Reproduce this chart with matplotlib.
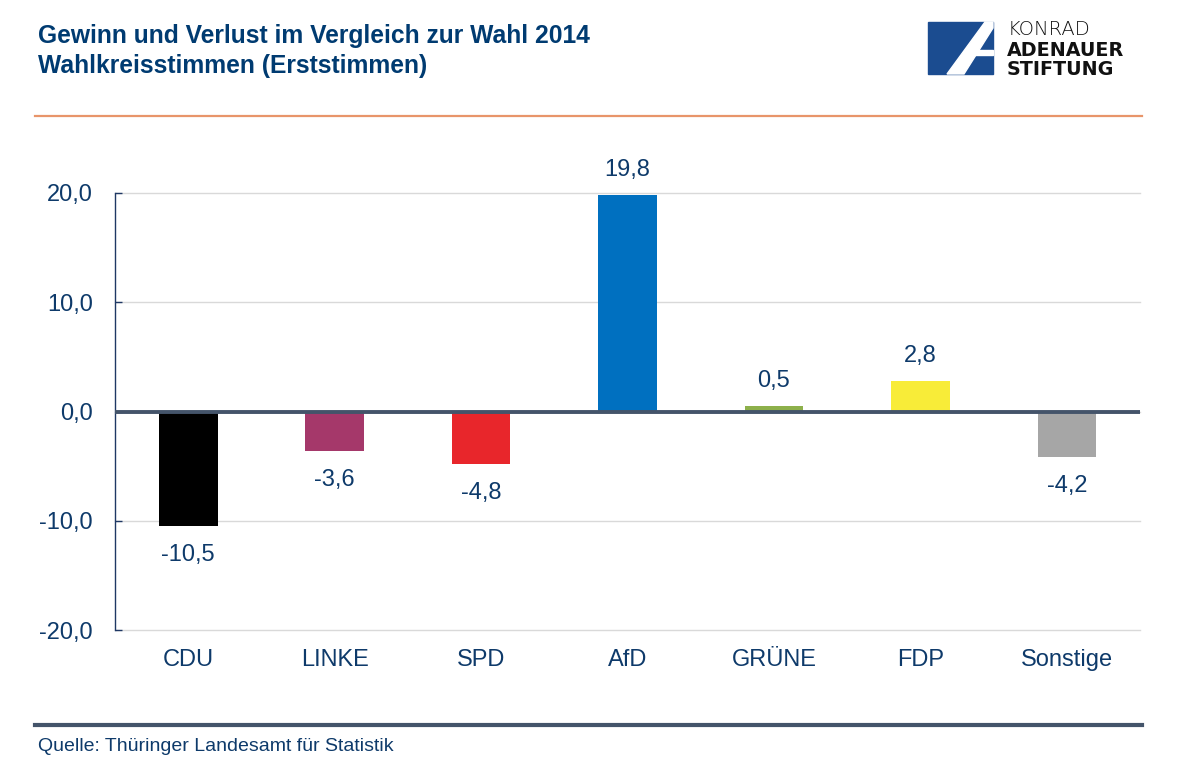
import matplotlib.pyplot as plt
from matplotlib.patches import Rectangle, Polygon
from matplotlib.lines import Line2D

parteien = ["CDU", "LINKE", "SPD", "AfD", "GRÜNE", "FDP", "Sonstige"]
differenz = [-10.5, -3.6, -4.8, 19.8, 0.5, 2.8, -4.2]
farben = ["#000000", "#A5386A", "#E8262B", "#0070C0", "#8DB04B", "#F8EC38", "#A6A6A6"]
y_ticks = [-20, -10, 0, 10, 20]

navy = "#0E3A6A"
plt.rcParams["font.family"] = ["Liberation Sans", "DejaVu Sans"]

fig = plt.figure(figsize=(11.96, 7.74), dpi=100)
ax = fig.add_axes([115 / 1196, 1 - 630 / 774, 1025 / 1196, 437 / 774])

x = range(len(parteien))
ax.bar(x, differenz, width=0.4, color=farben, zorder=2)
ax.axhline(0, color="#44546A", linewidth=2.8, zorder=3)

for xi, v in zip(x, differenz):
    txt = f"{v:.1f}".replace(".", ",")
    if v >= 0:
        ax.annotate(txt, (xi, v), xytext=(0, 10), textcoords="offset points",
                    ha="center", va="bottom", fontsize=17, color=navy)
    else:
        ax.annotate(txt, (xi, v), xytext=(0, -13), textcoords="offset points",
                    ha="center", va="top", fontsize=17, color=navy)

ax.set_ylim(-20, 20)
ax.set_xlim(-0.5, len(parteien) - 0.5)
ax.set_yticks(y_ticks)
ax.set_yticklabels([f"{t:.1f}".replace(".", ",") for t in y_ticks])
ax.set_xticks(list(x))
ax.set_xticklabels(parteien)
ax.tick_params(axis="y", direction="in", length=5, width=1, color="#1F3864",
               pad=16, labelsize=17, labelcolor=navy)
ax.tick_params(axis="x", length=0, pad=14, labelsize=17, labelcolor=navy)
ax.grid(True, axis="y", color="#D9D9D9", linewidth=1, zorder=0)
for gl in ax.get_ygridlines():
    gl.set_clip_on(False)
for s in ["top", "right", "bottom"]:
    ax.spines[s].set_visible(False)
ax.spines["left"].set_color("#1F3864")
ax.spines["left"].set_linewidth(1)

# Titel
fig.text(38 / 1196, 1 - 43 / 774, "Gewinn und Verlust im Vergleich zur Wahl 2014",
         fontsize=17.7, fontweight="bold", color="#003B71", va="baseline")
fig.text(38 / 1196, 1 - 73 / 774, "Wahlkreisstimmen (Erststimmen)",
         fontsize=17.7, fontweight="bold", color="#003B71", va="baseline")

# Linien oben und unten
fig.add_artist(Line2D([35 / 1196, 1142 / 1196], [1 - 116 / 774] * 2,
                      color="#E8956A", linewidth=1.6))
fig.add_artist(Line2D([35 / 1196, 1142 / 1196], [1 - 725 / 774] * 2,
                      color="#44546A", linewidth=3))
fig.text(38 / 1196, 1 - 751 / 774, "Quelle: Thüringer Landesamt für Statistik",
         fontsize=14, color=navy, va="baseline")

# Logo
def px(xp, yp):
    return (xp / 1196, 1 - yp / 774)

blau = "#1B4C90"
fig.add_artist(Rectangle(px(928, 74), 65 / 1196, 52 / 774, color=blau,
                         transform=fig.transFigure))
fig.add_artist(Polygon([px(947, 74), px(964, 74), px(993, 28), px(993, 22), px(985, 22)],
                       closed=True, color="white", transform=fig.transFigure))
fig.add_artist(Polygon([px(967, 50), px(993, 50), px(993, 55), px(964, 55)],
                       closed=True, color="white", transform=fig.transFigure))
fig.text(1008 / 1196, 1 - 35 / 774, "KONRAD", fontsize=14, fontweight="light",
         family=["DejaVu Sans"], color="#111111", va="baseline")
fig.text(1007 / 1196, 1 - 56 / 774, "ADENAUER", fontsize=13.8, fontweight="bold",
         family=["DejaVu Sans"], color="#111111", va="baseline")
fig.text(1007 / 1196, 1 - 75 / 774, "STIFTUNG", fontsize=13.8, fontweight="bold",
         family=["DejaVu Sans"], color="#111111", va="baseline")

fig.savefig("out.png", dpi=100)
